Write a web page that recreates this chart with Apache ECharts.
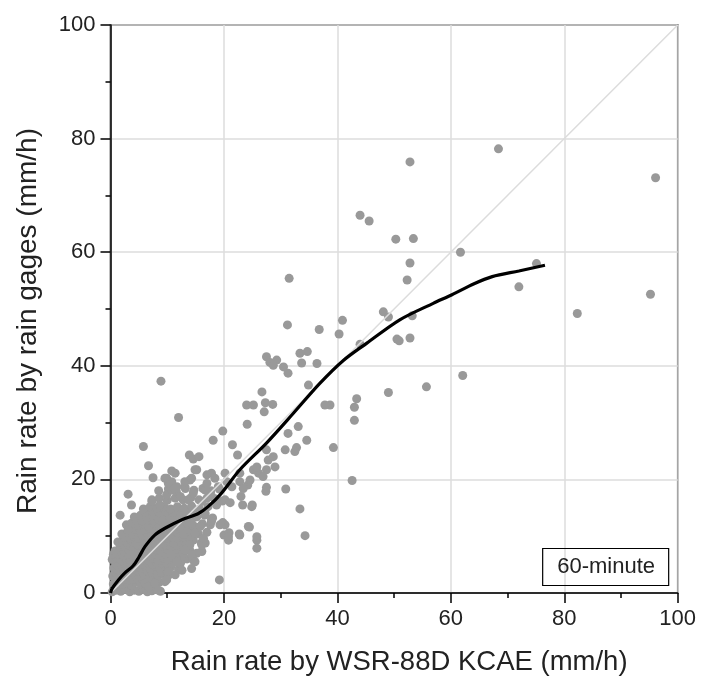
<!DOCTYPE html>
<html><head><meta charset="utf-8">
<script src="https://cdn.jsdelivr.net/npm/echarts@6/dist/echarts.min.js"></script>
<style>html,body{margin:0;padding:0;background:#fff}#c{width:703px;height:683px}</style>
</head><body><div id="c"></div>
<script>
// axis settings
const axisMin = 0, axisMax = 100, axisStep = 20;
const xTitle = 'Rain rate by WSR-88D KCAE (mm/h)';
const yTitle = 'Rain rate by rain gages (mm/h)';
const boxLabel = '60-minute';

// outlying points [radar, gage]
const highPoints = [[68.4,78.2],[52.8,75.9],[96.1,73.1],[44.0,66.5],[45.6,65.5],[50.3,62.3],[53.4,62.4],[61.7,60.0],[52.8,58.1],[75.1,58.0],[31.5,55.4],[52.3,55.1],[72.0,53.9],[95.2,52.6],[82.3,49.2],[48.1,49.5],[49.0,48.6],[53.2,48.8],[40.9,48.0],[31.2,47.2],[36.8,46.4],[40.3,45.6],[52.8,44.9],[50.5,44.7],[50.9,44.4],[44.0,43.8],[34.7,42.5],[33.4,42.2],[36.4,40.4],[33.7,40.5],[27.5,41.6],[28.1,40.6],[29.3,41.0],[28.7,40.1],[30.5,39.8],[31.3,38.7],[62.1,38.3],[8.9,37.3]];

// mid-range points
const midPoints = [[55.7,36.3],[49.0,35.3],[43.4,34.2],[43.0,32.7],[43.0,30.4],[38.7,33.1],[37.8,33.1],[34.9,36.6],[39.3,25.6],[42.6,19.8],[12.0,30.9],[26.7,35.4],[24.0,33.1],[25.2,33.1],[27.3,33.5],[28.6,33.2],[27.1,31.9],[24.1,29.7],[19.8,28.5],[18.1,26.9],[21.5,26.1],[22.4,24.3],[33.1,29.3],[31.3,28.1],[34.6,26.9],[30.8,25.2],[32.8,25.6],[32.5,24.9],[30.9,18.3],[33.4,14.8],[34.3,10.1],[27.4,17.9],[25.8,9.3],[25.8,7.9],[24.5,11.6],[22.7,10.4],[20.0,10.2],[20.8,9.3],[19.2,2.3],[25.0,15.5],[23.0,17.0],[23.3,15.5],[24.2,19.0],[20.9,10.6],[19.8,12.4],[20.2,16.4],[21.1,15.9],[27.5,25.2],[27.8,23.4],[27.5,21.7],[26.1,21.1],[25.2,21.7],[26.9,20.5],[22.8,21.1],[20.2,21.1],[20.5,19.6],[22.8,19.6],[24.6,19.9],[25.8,22.2],[29.0,22.2],[28.7,24.0],[27.5,18.6],[23.4,18.4],[21.4,18.7],[24.9,15.2],[24.3,11.7],[25.8,9.9],[20.8,9.9],[20.2,12.0],[19.3,12.0],[17.8,12.6],[22.8,10.2],[5.8,25.8],[6.7,22.4],[7.5,20.3],[13.9,24.3],[14.6,23.6],[15.6,24.0],[15.2,21.7],[10.8,21.5],[11.4,21.1],[9.9,20.2],[10.8,19.6],[17.0,20.8],[17.8,21.1],[18.4,20.2],[17.0,19.3],[14.0,19.9],[13.1,19.6],[14.3,20.2],[14.9,21.7],[3.1,17.4],[3.7,15.5],[1.7,13.7],[3.1,11.1],[11.4,18.4],[9.6,20.2]];

// dense cluster near the origin
const clusterPoints = [
[0.3,0.2],[1.0,0.5],[1.8,0.3],[2.6,0.6],[3.4,0.2],[4.2,0.5],[5.0,0.3],[5.8,0.6],[6.5,0.2],[7.3,0.4],[8.1,0.6],[8.8,0.3],
[0.5,1.6],[1.3,1.9],[2.1,1.5],[2.9,1.8],[3.7,1.4],[4.5,1.9],[5.3,1.6],[6.1,1.8],[6.9,1.4],[7.8,1.7],[8.6,1.9],[9.6,2.0],
[0.9,2.4],[1.6,2.3],[2.4,2.5],[3.2,2.3],[4.0,2.5],[4.9,2.3],[5.6,2.5],[6.4,2.3],[7.2,2.5],[8.1,2.4],
[0.4,3.0],[1.1,3.3],[1.9,2.9],[2.7,3.2],[3.5,2.8],[4.3,3.3],[5.1,3.0],[5.9,3.2],[6.7,2.8],[7.5,3.3],[8.4,3.0],[9.2,3.4],[10.2,3.1],
[0.8,3.8],[1.6,3.9],[2.4,3.7],[3.2,3.9],[4.0,3.7],[4.9,3.9],[5.7,3.7],[6.5,3.9],[7.3,3.7],[8.1,3.9],[9.0,3.7],[9.9,3.9],
[0.6,4.4],[1.4,4.7],[2.2,4.3],[3.0,4.6],[3.8,4.2],[4.6,4.8],[5.4,4.4],[6.2,4.6],[7.0,4.3],[7.9,4.7],[8.7,4.4],[9.6,4.8],[10.6,4.5],[12.0,4.2],
[1.0,5.2],[1.8,5.3],[2.6,5.1],[3.4,5.3],[4.2,5.1],[5.0,5.3],[5.8,5.1],[6.6,5.3],[7.4,5.1],[8.2,5.3],[9.0,5.2],[9.8,5.3],[10.8,5.2],
[0.3,5.9],[1.1,6.2],[1.9,5.8],[2.7,6.1],[3.5,5.7],[4.3,6.2],[5.1,5.9],[5.9,6.3],[6.7,5.8],[7.6,6.1],[8.4,5.7],[9.3,6.2],[10.1,5.9],[11.0,6.3],[12.5,5.6],[13.5,6.0],
[0.5,6.8],[1.4,6.8],[2.2,6.7],[3.0,6.9],[3.8,6.7],[4.7,6.9],[5.5,6.7],[6.3,6.9],[7.1,6.7],[8.0,6.9],[8.8,6.7],[9.7,6.9],[11.4,6.9],[12.2,6.6],
[0.8,7.4],[1.6,7.7],[2.4,7.3],[3.2,7.6],[4.0,7.2],[4.8,7.8],[5.6,7.4],[6.4,7.6],[7.2,7.3],[8.0,7.7],[8.9,7.4],[9.8,7.8],[10.7,7.3],[11.7,7.7],[12.8,7.1],[14.0,7.5],[15.2,7.0],
[1.7,8.3],[2.5,8.2],[3.3,8.4],[4.1,8.2],[4.9,8.4],[5.7,8.2],[6.5,8.4],[7.3,8.2],[8.1,8.4],[9.0,8.2],[9.8,8.4],[10.7,8.2],[11.7,8.4],[12.9,8.2],
[1.3,9.0],[2.1,9.3],[2.9,8.9],[3.7,9.2],[4.5,8.8],[5.3,9.3],[6.1,8.9],[6.9,9.2],[7.7,8.8],[8.5,9.3],[9.4,8.9],[10.3,9.2],[11.2,8.8],[12.2,9.3],[13.4,8.9],[14.6,9.3],[16.0,8.8],
[2.5,9.8],[3.4,9.7],[4.2,9.9],[5.0,9.7],[5.8,9.9],[6.6,9.7],[7.4,9.9],[8.3,9.7],[9.1,9.9],[10.0,9.7],[10.9,9.9],[11.8,9.7],[12.8,9.9],[13.9,9.7],
[2.0,10.4],[3.0,10.7],[3.9,10.3],[4.8,10.6],[5.6,10.2],[6.4,10.7],[7.3,10.4],[8.1,10.8],[9.0,10.3],[9.9,10.7],[10.8,10.3],[11.8,10.6],[12.9,10.3],[14.2,10.8],[15.5,10.4],[17.0,10.7],
[3.3,11.3],[4.2,11.2],[5.1,11.4],[6.0,11.2],[6.9,11.4],[7.8,11.2],[8.7,11.4],[9.6,11.2],[10.5,11.4],[11.4,11.2],[12.4,11.4],[13.4,11.2],
[2.8,12.0],[3.7,12.3],[4.8,11.9],[5.8,12.2],[6.7,11.8],[7.6,12.3],[8.5,11.9],[9.4,12.3],[10.4,11.9],[11.4,12.2],[12.4,11.8],[13.6,12.2],[14.8,11.7],[16.2,12.2],[17.6,12.0],
[4.6,12.8],[5.6,12.7],[6.6,12.9],[7.6,12.7],[8.6,12.9],[9.6,12.7],[10.6,12.9],[11.6,12.7],[12.8,12.9],[14.2,12.8],
[4.2,13.4],[5.3,13.7],[6.4,13.3],[7.4,13.7],[8.4,13.3],[9.4,13.7],[10.5,13.3],[11.6,13.7],[12.7,13.4],[13.9,13.8],[15.2,13.4],[16.6,13.7],[18.0,13.2],
[6.2,14.2],[7.4,14.3],[8.6,14.2],[9.8,14.3],[11.0,14.2],[12.2,14.3],[13.5,14.2],[15.0,14.3],
[5.8,14.8],[7.0,15.2],[8.2,14.9],[9.4,15.2],[10.6,14.8],[11.8,15.2],[13.0,14.9],[14.3,15.3],[15.7,14.8],[17.2,15.2],[18.7,15.5],
[7.3,16.4],[8.6,16.7],[10.0,16.3],[11.4,16.7],[12.8,16.4],[14.2,16.8],[15.6,16.4],[17.0,16.7],[18.4,16.6],[19.7,16.2],
[8.5,18.0],[10.2,18.3],[11.6,17.9],[13.2,18.4],[14.7,18.1],[16.3,18.4],[17.7,18.0],[19.2,18.3],
[6.1,1.7],[6.7,1.1],[7.8,1.7],[8.4,0.5],[9.9,2.3],[16.7,8.8],[16.1,7.3],[14.0,8.5],[12.8,7.0],[12.3,5.2],[10.8,6.4],[14.6,5.8],[13.1,7.6],[14.3,6.7],[16.1,8.5],[16.4,9.6],[14.3,4.3],[14.9,5.5],[11.7,5.5],[12.6,4.0],[11.4,3.2],[10.2,3.8],[10.8,6.7],[16.7,14.0],[17.8,12.9],[15.8,11.7],[14.9,10.5],[14.3,12.3],[16.7,18.1],[17.8,17.0],[19.0,18.7],[16.1,16.1],[14.6,17.6],[13.7,16.4],[12.3,17.0],[13.1,18.7],[9.9,17.3],[10.8,18.1],[11.7,18.7],[10.2,19.3],[7.3,16.1],[8.7,15.5]
];

// smoothed (loess) curve
const loessX = [0,0.3,1.4,2.5,4.0,5.0,6.1,7.8,9.6,12.6,15.5,17.2,19.5,22.8,27.5,32.2,36.9,41.0,45.2,51.0,56.9,60.2,64.0,67.3,72.0,76.6];
const loessY = [0,0.8,2.3,3.5,4.8,6.3,8.2,10.2,11.4,12.9,14.0,15.2,17.5,21.7,26.4,31.6,36.9,40.9,44.0,48.1,51.0,52.5,54.4,55.7,56.7,57.7];

// 1:1 reference line
const oneToOne = [[0,0],[100,100]];

const FONT = '"Liberation Sans", Arial, Helvetica, sans-serif';
const chart = echarts.init(document.getElementById('c'), null, {renderer:'canvas'});

function axisCommon() {
  return {
    type: 'value', min: axisMin, max: axisMax, interval: axisStep,
    axisLine: {show: true, onZero: false, lineStyle: {color: '#000', width: 1.5}},
    axisTick: {show: true, inside: false, length: 10, lineStyle: {color: '#000', width: 1.5}},
    minorTick: {show: true, splitNumber: 2, length: 5, lineStyle: {color: '#000', width: 1.5}},
    splitLine: {show: true, lineStyle: {color: '#dcdcdc', width: 1.5}},
    axisLabel: {fontFamily: FONT, fontSize: 22, color: '#222', margin: 15},
    nameLocation: 'middle'
  };
}

const allPoints = clusterPoints.concat(midPoints, highPoints);

chart.setOption({
  animation: false,
  backgroundColor: '#fff',
  title: {
    text: boxLabel, right: 34, bottom: 97,
    borderColor: '#000', borderWidth: 1.2, padding: [8, 14, 8, 15],
    textStyle: {fontFamily: FONT, fontSize: 22, fontWeight: 'normal', color: '#222'}
  },
  grid: {left: 110.5, right: 25.3, top: 25, bottom: 90, show: true, borderColor: '#000', borderWidth: 1.5, backgroundColor: 'transparent'},
  xAxis: Object.assign(axisCommon(), {name: xTitle, nameGap: 55,
    nameTextStyle: {fontFamily: FONT, fontSize: 27.5, color: '#222', padding: [0, 0, 0, 10]}}),
  yAxis: Object.assign(axisCommon(), {name: yTitle, nameGap: 68,
    nameTextStyle: {fontFamily: FONT, fontSize: 28, color: '#222', padding: [0, 24, 0, 0]}}),
  series: [
    {type: 'scatter', data: allPoints, symbolSize: 9, itemStyle: {color: '#999', opacity: 1}, z: 2, silent: true},
    {type: 'line', data: oneToOne, symbol: 'none', lineStyle: {color: '#dcdcdc', width: 1.5}, z: 3, silent: true},
    {type: 'line', data: loessX.map((x, i) => [x, loessY[i]]), symbol: 'none', smooth: 0.3,
     lineStyle: {color: '#000', width: 3.2}, z: 4, silent: true}
  ]
});
</script></body></html>
